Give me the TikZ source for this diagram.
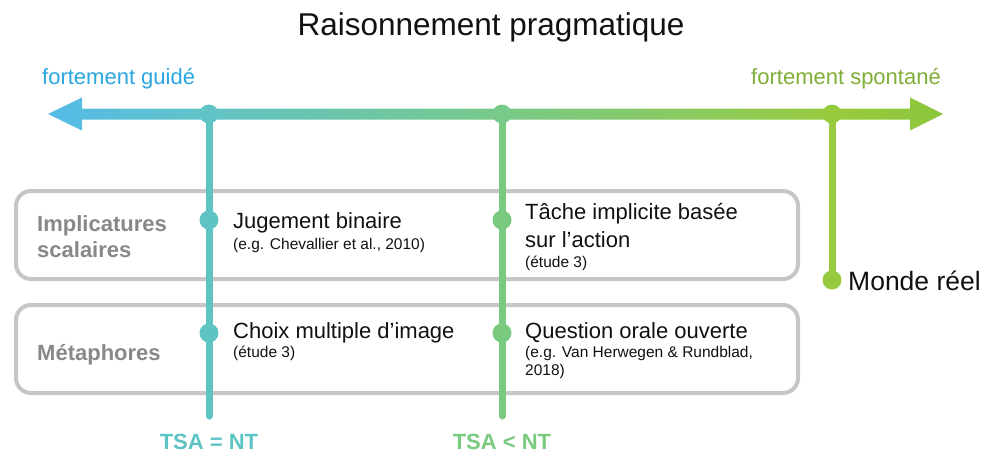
\documentclass[tikz,border=0pt]{standalone}
\usepackage{fontspec}
\setmainfont{Liberation Sans}
\usetikzlibrary{positioning}
\definecolor{AXBLUE}{HTML}{55BBE8}
\definecolor{AXTEAL}{HTML}{62C3C6}
\definecolor{AXGREEN}{HTML}{78C98A}
\definecolor{AXLIME}{HTML}{98CA3E}
\definecolor{AXEND}{HTML}{8DC63C}
\definecolor{TXTBLUE}{HTML}{2AA6E0}
\definecolor{TXTOLIVE}{HTML}{7FAE36}
\definecolor{LTEAL}{HTML}{5EC3C3}
\definecolor{LGREEN}{HTML}{79C97E}
\definecolor{LLIME}{HTML}{97CA3E}
\definecolor{CBOX}{HTML}{C6C6C6}
\definecolor{TXTGRAY}{HTML}{888888}
\definecolor{INKc}{HTML}{111111}
\pgfdeclarehorizontalshading{axisgrad}{100bp}{color(0bp)=(AXBLUE); color(25bp)=(AXBLUE);
  color(34bp)=(AXTEAL); color(50bp)=(AXGREEN); color(69bp)=(AXLIME);
  color(75bp)=(AXEND); color(100bp)=(AXEND)}

\begin{document}
\begin{tikzpicture}[
  x=1pt, y=-1pt,
  % grey rounded category box
  catbox/.style={draw=CBOX, line width=4, rounded corners=15pt},
  % vertical level line
  vline/.style={line width=7, line cap=round},
  % dot on a line
  pin/.style={circle, fill=#1, inner sep=0pt, minimum size=19pt},
  % texts
  cat/.style={font=\fontsize{22}{26}\selectfont\bfseries, color=TXTGRAY, align=left, anchor=base west},
  task/.style={font=\fontsize{22}{28}\selectfont, color=INKc, align=left, anchor=base west, inner sep=0pt},
  ref/.style={font=\fontsize{15.5}{18}\selectfont, color=INKc, align=left, inner sep=0pt},
  lvl/.style={font=\fontsize{22}{26}\selectfont\bfseries, anchor=base},
]
\useasboundingbox (0,0) rectangle (997,455);

% ---------- Title ----------
\node[font=\fontsize{31.5}{36}\selectfont, color=INKc, anchor=base] (TITLE) at (491,35) {Raisonnement pragmatique};

% ---------- Category boxes ----------
\draw[catbox] (16,191) rectangle (798,279);
\draw[catbox] (16,305) rectangle (798,393);

% ---------- Points on the axis ----------
\coordinate (AX1) at (209,114);
\coordinate (AX2) at (502,114);
\coordinate (AX3) at (832,114);
\coordinate (END1) at (209,416);
\coordinate (END2) at (502,416);

% ---------- Vertical lines ----------
\draw[vline, LTEAL] (AX1) -- (END1);
\draw[vline, LGREEN] (AX2) -- (END2);
\node[pin=LLIME] (REAL) at (832,280) {};
\draw[vline, LLIME] (AX3) -- (REAL);

% ---------- Axis (gradient, arrow both ways) ----------
\shade[shading=axisgrad] (48,114) -- (82,97.5) -- (82,108.5) -- (910,108.5) -- (910,97.5)
  -- (943,114) -- (910,130.5) -- (910,119.5) -- (82,119.5) -- (82,130.5) -- cycle;
\node[pin=AXTEAL] (P1) at (AX1) {};
\node[pin=AXGREEN] (P2) at (AX2) {};
\node[pin=AXLIME] (P3) at (AX3) {};
\node[font=\fontsize{22}{26}\selectfont, color=TXTBLUE, anchor=base west, inner sep=0pt] (GUIDE) at (42,84) {fortement guidé};
\node[font=\fontsize{22}{26}\selectfont, color=TXTOLIVE, anchor=base east, inner sep=0pt] (SPONT) at (941,84) {fortement spontané};

% ---------- Dots in the boxes ----------
\node[pin=LTEAL] (J1) at (209,220) {};
\node[pin=LGREEN] (T1) at (502,220) {};
\node[pin=LTEAL] (C1) at (209,333) {};
\node[pin=LGREEN] (Q1) at (502,333) {};

% ---------- Category labels (base = last line) ----------
\node[cat, inner sep=0pt] (IMPL) at (37,257) {Implicatures\\scalaires};
\node[cat, inner sep=0pt] (META) at (37,360) {Métaphores};

% ---------- Tasks ----------
\node[task] (JUG) at (233,228) {Jugement binaire};
\node[ref, below=21pt of JUG.base west, anchor=base west] (JUGR) {(e.g. Chevallier et al., 2010)};
\node[task] (TACHE) at (525,247) {Tâche implicite basée\\sur l’action};
\node[ref, below=20pt of TACHE.base west, anchor=base west] (TACHER) {(étude 3)};
\node[task] (CHOIX) at (233,338) {Choix multiple d’image};
\node[ref, below=19pt of CHOIX.base west, anchor=base west] (CHOIXR) {(étude 3)};
\node[task] (QUEST) at (525,338) {Question orale ouverte};
\node[ref, below=37pt of QUEST.base west, anchor=base west] (QUESTR) {(e.g. Van Herwegen \& Rundblad,\\2018)};

% ---------- Real world + levels ----------
\node[font=\fontsize{26.5}{30}\selectfont, color=INKc, anchor=base west, inner sep=0pt] (MONDE) at (848,290) {Monde réel};
\node[lvl, color=LTEAL] (EQ) at (209,449) {TSA = NT};
\node[lvl, color=LGREEN] (LT) at (502,449) {TSA < NT};

\end{tikzpicture}
\end{document}
